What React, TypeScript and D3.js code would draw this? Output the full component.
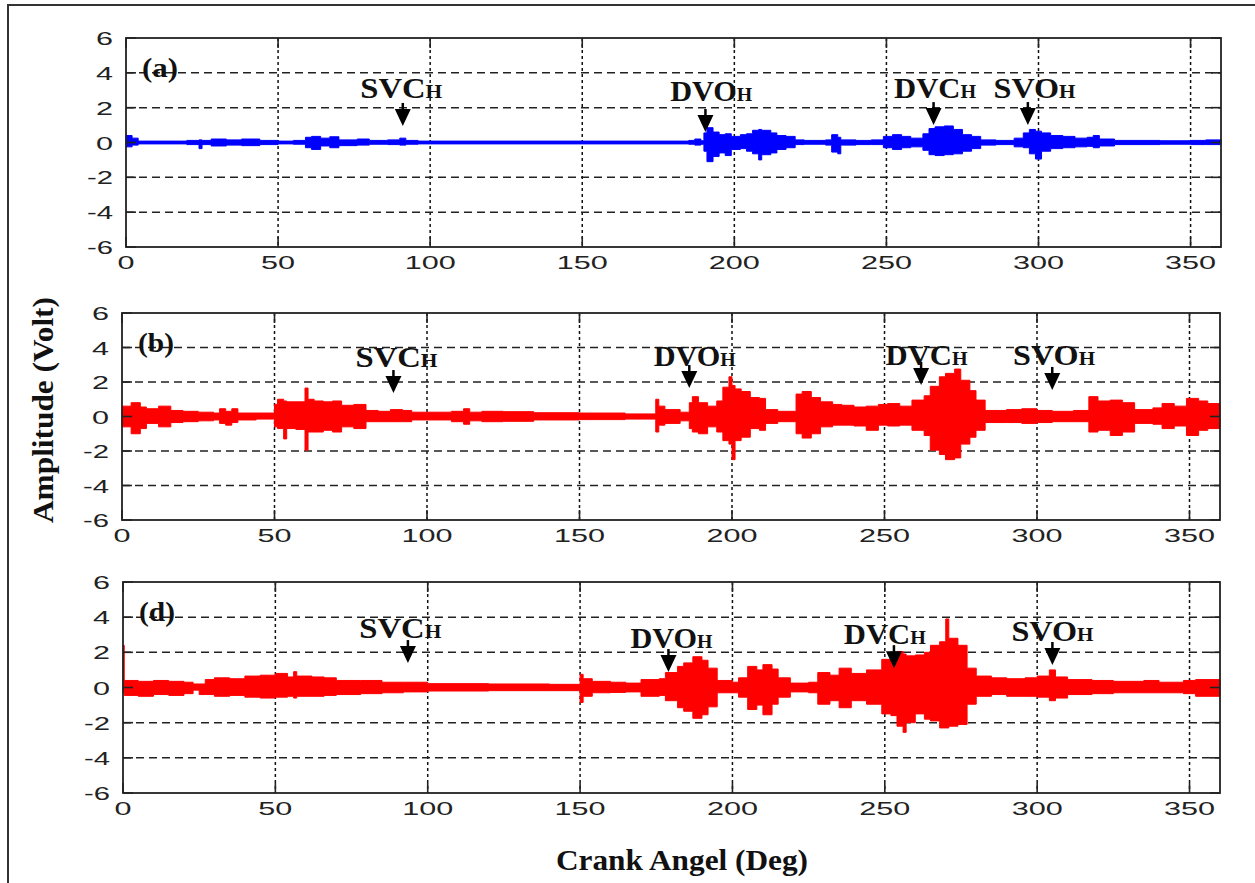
import React from "react";
import * as d3 from "d3";

// envelope of each trace: [crank angle, upper volt, lower volt], held until the next angle
const traceA: [number, number, number][] = [
  [0, 0.4, -0.25], [2, 0.25, -0.15], [4, 0.08, -0.08], [20, 0.12, -0.12], [24, 0.15, -0.35],
  [25, 0.12, -0.12], [28, 0.2, -0.2], [33, 0.15, -0.15], [38, 0.2, -0.18], [44, 0.12, -0.12],
  [50, 0.08, -0.08], [55, 0.12, -0.1], [59, 0.3, -0.3], [61, 0.35, -0.4], [64, 0.25, -0.2],
  [67, 0.33, -0.3], [70, 0.15, -0.18], [76, 0.2, -0.15], [80, 0.12, -0.1], [86, 0.15, -0.12],
  [90, 0.25, -0.15], [92, 0.12, -0.1], [96, 0.08, -0.08], [185, 0.12, -0.1], [187, 0.2, -0.15],
  [189, 0.1, -0.1], [190, 0.55, -0.5], [191, 0.85, -1.1], [193, 0.6, -0.8], [195, 0.45, -0.6],
  [197, 0.5, -0.75], [199, 0.35, -0.4], [202, 0.45, -0.35], [204, 0.5, -0.5], [206, 0.7, -0.65],
  [208, 0.75, -1.0], [209, 0.7, -0.7], [212, 0.55, -0.6], [214, 0.4, -0.4], [217, 0.35, -0.3],
  [220, 0.15, -0.12], [223, 0.12, -0.1], [230, 0.15, -0.15], [232, 0.45, -0.55], [234, 0.3, -0.65],
  [235, 0.15, -0.15], [240, 0.12, -0.12], [245, 0.15, -0.12], [249, 0.35, -0.3], [252, 0.45, -0.4],
  [255, 0.35, -0.3], [258, 0.25, -0.25], [262, 0.5, -0.45], [264, 0.8, -0.7], [266, 0.9, -0.75],
  [269, 0.95, -0.7], [272, 0.75, -0.65], [275, 0.45, -0.5], [278, 0.35, -0.35], [281, 0.15, -0.15],
  [286, 0.12, -0.12], [292, 0.25, -0.25], [295, 0.55, -0.3], [297, 0.75, -0.65], [299, 0.65, -0.95],
  [301, 0.55, -0.5], [304, 0.4, -0.35], [308, 0.35, -0.3], [312, 0.25, -0.25], [316, 0.3, -0.22],
  [318, 0.4, -0.3], [320, 0.2, -0.2], [325, 0.12, -0.12], [340, 0.1, -0.1], [350, 0.12, -0.12],
  [355, 0.15, -0.12], [360, 0.15, -0.12],
];

const traceB: [number, number, number][] = [
  [0, 0.6, -0.6], [3, 0.8, -1.0], [6, 0.55, -0.7], [8, 0.45, -0.4], [12, 0.6, -0.6],
  [16, 0.35, -0.35], [20, 0.3, -0.3], [25, 0.25, -0.25], [30, 0.2, -0.2], [32, 0.45, -0.4],
  [34, 0.3, -0.5], [36, 0.45, -0.35], [38, 0.2, -0.2], [44, 0.2, -0.15], [50, 0.7, -0.6],
  [51, 1.0, -0.7], [53, 0.9, -1.3], [54, 0.85, -0.7], [57, 0.85, -0.75], [60, 1.65, -1.95],
  [61, 1.0, -0.9], [63, 0.9, -0.9], [66, 0.85, -0.8], [69, 0.9, -0.9], [72, 0.65, -0.6],
  [76, 0.7, -0.7], [80, 0.35, -0.3], [84, 0.3, -0.3], [88, 0.4, -0.3], [92, 0.35, -0.3],
  [95, 0.25, -0.2], [108, 0.3, -0.3], [112, 0.45, -0.45], [114, 0.25, -0.25], [118, 0.3, -0.3],
  [125, 0.28, -0.28], [135, 0.22, -0.2], [150, 0.2, -0.18], [165, 0.15, -0.15], [175, 1.0, -0.9],
  [176, 0.6, -0.5], [178, 0.4, -0.4], [183, 0.25, -0.25], [186, 0.8, -0.7], [187, 1.15, -0.9],
  [189, 0.8, -1.0], [192, 0.6, -0.6], [195, 0.9, -0.9], [197, 1.7, -1.4], [199, 2.3, -1.6],
  [200, 1.8, -2.5], [201, 1.6, -1.4], [203, 1.45, -1.2], [206, 1.1, -0.7], [209, 1.05, -0.8],
  [211, 0.4, -0.4], [215, 0.3, -0.3], [221, 1.3, -1.0], [223, 1.45, -1.25], [226, 1.1, -1.0],
  [229, 0.85, -0.6], [233, 0.7, -0.5], [236, 0.65, -0.5], [240, 0.55, -0.55], [244, 0.6, -0.8],
  [248, 0.7, -0.5], [251, 0.75, -0.55], [255, 0.6, -0.5], [259, 0.95, -0.8], [263, 1.2, -1.1],
  [265, 1.75, -1.95], [268, 2.3, -2.2], [270, 2.5, -2.5], [273, 2.75, -2.4], [275, 2.1, -1.6],
  [278, 1.5, -1.2], [280, 0.95, -0.8], [283, 0.35, -0.35], [290, 0.4, -0.35], [295, 0.45, -0.4],
  [300, 0.35, -0.35], [305, 0.3, -0.3], [312, 0.35, -0.3], [317, 1.15, -0.9], [320, 0.9, -0.8],
  [324, 0.95, -1.1], [328, 0.8, -0.9], [332, 0.4, -0.4], [338, 0.5, -0.45], [341, 0.75, -0.7],
  [345, 0.6, -0.55], [349, 1.05, -1.1], [353, 0.9, -0.8], [356, 0.75, -0.7], [360, 0.75, -0.7],
];

const traceD: [number, number, number][] = [
  [0, 2.4, -0.3], [0.4, 0.4, -0.45], [5, 0.35, -0.5], [10, 0.4, -0.4], [15, 0.35, -0.45],
  [20, 0.3, -0.35], [23, 0.2, -0.15], [25, 0.2, -0.4], [27, 0.45, -0.4], [30, 0.55, -0.5],
  [35, 0.5, -0.45], [40, 0.65, -0.55], [45, 0.7, -0.6], [50, 0.8, -0.55], [54, 0.6, -0.5],
  [56, 0.9, -0.6], [57, 0.65, -0.5], [62, 0.6, -0.5], [66, 0.55, -0.45], [70, 0.4, -0.4],
  [78, 0.4, -0.35], [85, 0.3, -0.3], [92, 0.3, -0.25], [100, 0.22, -0.2], [120, 0.2, -0.18],
  [140, 0.18, -0.18], [150, 0.75, -0.85], [151, 0.5, -0.5], [154, 0.35, -0.3], [160, 0.3, -0.28],
  [165, 0.25, -0.25], [170, 0.45, -0.5], [176, 0.5, -0.45], [178, 0.85, -0.75], [182, 1.2, -1.15],
  [184, 1.4, -1.35], [187, 1.75, -1.75], [190, 1.55, -1.55], [192, 1.1, -1.1], [195, 0.4, -0.3],
  [200, 0.3, -0.3], [202, 0.55, -0.55], [205, 1.2, -1.25], [208, 1.0, -1.0], [210, 1.3, -1.55],
  [213, 1.05, -0.95], [215, 0.55, -0.55], [219, 0.25, -0.25], [225, 0.3, -0.3], [228, 0.85, -0.95],
  [232, 0.7, -0.75], [235, 1.1, -1.15], [239, 0.8, -0.75], [244, 1.0, -0.95], [249, 1.6, -1.5],
  [252, 1.5, -1.6], [254, 2.05, -2.2], [256, 1.9, -2.55], [257, 1.8, -2.0], [260, 1.85, -1.5],
  [263, 2.0, -1.8], [265, 2.4, -1.9], [268, 2.6, -2.3], [270, 3.9, -2.3], [271, 2.8, -2.2],
  [274, 2.4, -2.1], [277, 1.1, -0.95], [280, 0.65, -0.5], [285, 0.55, -0.4], [290, 0.5, -0.5],
  [296, 0.55, -0.5], [300, 0.65, -0.55], [304, 1.0, -0.75], [306, 0.6, -0.6], [310, 0.45, -0.4],
  [318, 0.4, -0.35], [325, 0.35, -0.3], [335, 0.4, -0.3], [340, 0.3, -0.3], [348, 0.4, -0.35],
  [352, 0.45, -0.5], [360, 0.45, -0.5],
];

// valve events marked on every trace
const eventNames = ["SVC", "DVO", "DVC", "SVO"];
const arrowAngleA = [91, 190.5, 265.5, 296.5];
const arrowTipA = [0.95, 0.6, 1.0, 1.0];
const labelAngleA = [90.5, 192.4, 266, 298.7];
const labelVoltA = [2.56, 2.4, 2.56, 2.56];

const arrowAngleB = [89, 186, 262, 305];
const arrowTipB = [1.36, 1.65, 1.83, 1.54];
const labelAngleB = [90, 187.8, 263.8, 305.6];
const labelVoltB = [2.87, 2.93, 2.98, 2.98];

const arrowAngleD = [93.5, 179, 253, 305];
const arrowTipD = [1.39, 0.88, 1.1, 1.28];
const labelAngleD = [91, 180, 250, 305];
const labelVoltD = [2.8, 2.25, 2.47, 2.64];

const xTicks = [0, 50, 100, 150, 200, 250, 300, 350];
const yTicks = [-6, -4, -2, 0, 2, 4, 6];

const panels = [
  { tag: "(a)", trace: traceA, color: "#0000ff", left: 126, right: 1221, top: 38, bottom: 247,
    arrowAngle: arrowAngleA, arrowTip: arrowTipA, labelAngle: labelAngleA, labelVolt: labelVoltA },
  { tag: "(b)", trace: traceB, color: "#ff0000", left: 122, right: 1220, top: 313, bottom: 520,
    arrowAngle: arrowAngleB, arrowTip: arrowTipB, labelAngle: labelAngleB, labelVolt: labelVoltB },
  { tag: "(d)", trace: traceD, color: "#ff0000", left: 123, right: 1220, top: 582, bottom: 793,
    arrowAngle: arrowAngleD, arrowTip: arrowTipD, labelAngle: labelAngleD, labelVolt: labelVoltD },
];

const serif = "'Liberation Serif', 'Times New Roman', serif";
const sans = "'Liberation Sans', Arial, sans-serif";

// wide matlab style numbers
const numWidth = (s: string) => s.split("").reduce((w, c) => w + (c === "-" ? 9 : 17), 0);

function Panel({ p }: { p: (typeof panels)[number] }) {
  const x = d3.scaleLinear().domain([0, 360]).range([p.left, p.right]);
  const y = d3.scaleLinear().domain([-6, 6]).range([p.bottom, p.top]);
  const area = d3
    .area<[number, number, number]>()
    .x((d) => x(d[0]))
    .y0((d) => y(d[2]))
    .y1((d) => y(d[1]))
    .curve(d3.curveStepAfter);
  const tick = 10;

  return (
    <g>
      {/* grid */}
      {xTicks.filter((t) => t > 0).map((t) => (
        <line key={"gx" + t} x1={x(t)} x2={x(t)} y1={p.top} y2={p.bottom}
          stroke="#111" strokeWidth={1.5} strokeDasharray="3,3" />
      ))}
      {yTicks.filter((t) => Math.abs(t) < 6 && t !== 0).map((t) => (
        <line key={"gy" + t} x1={p.left} x2={p.right} y1={y(t)} y2={y(t)}
          stroke="#222" strokeWidth={1.5} strokeDasharray="8,5" />
      ))}

      {/* signal */}
      <path d={area(p.trace) || ""} fill={p.color} stroke={p.color} strokeWidth={1} />

      {/* box and inward ticks */}
      <rect x={p.left} y={p.top} width={p.right - p.left} height={p.bottom - p.top}
        fill="none" stroke="#222" strokeWidth={1.8} />
      {xTicks.map((t) => (
        <g key={"tx" + t} stroke="#222" strokeWidth={1.6}>
          <line x1={x(t)} x2={x(t)} y1={p.bottom} y2={p.bottom - tick} />
          <line x1={x(t)} x2={x(t)} y1={p.top} y2={p.top + tick} />
        </g>
      ))}
      {yTicks.map((t) => (
        <g key={"ty" + t} stroke="#222" strokeWidth={1.6}>
          <line x1={p.left} x2={p.left + tick} y1={y(t)} y2={y(t)} />
          <line x1={p.right} x2={p.right - tick} y1={y(t)} y2={y(t)} />
        </g>
      ))}

      {/* tick labels */}
      {xTicks.map((t) => (
        <text key={"lx" + t} x={x(t)} y={p.bottom + 22} textAnchor="middle" fontFamily={sans}
          fontSize={19} fill="#222" textLength={numWidth(String(t))} lengthAdjust="spacingAndGlyphs">
          {t}
        </text>
      ))}
      {yTicks.map((t) => (
        <text key={"ly" + t} x={p.left - 13} y={y(t) + 7} textAnchor="end" fontFamily={sans}
          fontSize={19} fill="#222" textLength={numWidth(String(t))} lengthAdjust="spacingAndGlyphs">
          {t}
        </text>
      ))}

      {/* panel tag */}
      <text x={p.left + 16} y={p.top + 39} fontFamily={serif} fontWeight="bold" fontSize={28}
        fill="#111" textLength={36} lengthAdjust="spacingAndGlyphs">
        {p.tag}
      </text>

      {/* valve event markers */}
      {eventNames.map((name, i) => {
        const ax = x(p.arrowAngle[i]);
        const ay = y(p.arrowTip[i]);
        return (
          <g key={name}>
            <line x1={ax} x2={ax} y1={ay - 23} y2={ay - 14} stroke="#000" strokeWidth={2.5} />
            <path d={`M${ax - 8},${ay - 17}L${ax + 8},${ay - 17}L${ax},${ay}Z`} fill="#000" />
            <text x={x(p.labelAngle[i])} y={y(p.labelVolt[i])} textAnchor="middle" fontFamily={serif}
              fontWeight="bold" fontSize={29} fill="#111" textLength={82} lengthAdjust="spacingAndGlyphs">
              {name}
              <tspan fontSize={19}>H</tspan>
            </text>
          </g>
        );
      })}
    </g>
  );
}

export default function App() {
  return (
    <svg width={1255} height={883} style={{ position: "absolute", left: 0, top: 0, background: "#fff" }}>
      <rect x={0} y={0} width={1255} height={883} fill="#fff" />
      {/* figure frame, only top and left edges show */}
      <rect x={8} y={5} width={1300} height={950} fill="none" stroke="#333" strokeWidth={2} />
      {panels.map((p) => (
        <Panel key={p.tag} p={p} />
      ))}
      <text transform="translate(53,410) rotate(-90)" textAnchor="middle" fontFamily={serif}
        fontWeight="bold" fontSize={29} fill="#111" textLength={226} lengthAdjust="spacingAndGlyphs">
        Amplitude (Volt)
      </text>
      <text x={682} y={870} textAnchor="middle" fontFamily={serif} fontWeight="bold" fontSize={29}
        fill="#111" textLength={252} lengthAdjust="spacingAndGlyphs">
        Crank Angel (Deg)
      </text>
    </svg>
  );
}
